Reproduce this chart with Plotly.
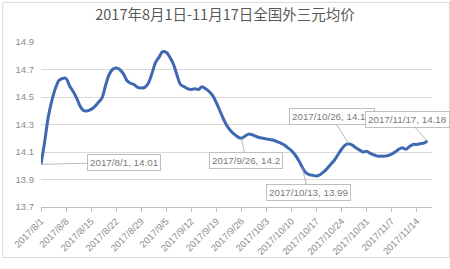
import plotly.graph_objects as go
import pandas as pd

title_text = "2017年8月1日-11月17日全国外三元均价"

# daily average price, 2017-08-01 .. 2017-11-17
prices = [
    14.01, 14.17, 14.35, 14.47, 14.56, 14.62, 14.635, 14.635, 14.58, 14.54,
    14.49, 14.43, 14.40, 14.40, 14.41, 14.43, 14.46, 14.49, 14.58, 14.66,
    14.70, 14.71, 14.70, 14.67, 14.62, 14.60, 14.59, 14.57, 14.565, 14.57,
    14.60, 14.67, 14.75, 14.79, 14.83, 14.825, 14.79, 14.74, 14.66, 14.59,
    14.575, 14.56, 14.555, 14.56, 14.555, 14.575, 14.56, 14.54, 14.51, 14.46,
    14.40, 14.34, 14.29, 14.255, 14.23, 14.21, 14.20, 14.215, 14.23, 14.225,
    14.215, 14.205, 14.20, 14.195, 14.19, 14.185, 14.175, 14.165, 14.15, 14.13,
    14.11, 14.08, 14.04, 13.99, 13.95, 13.935, 13.93, 13.925, 13.935, 13.955,
    13.98, 14.01, 14.04, 14.08, 14.12, 14.15, 14.16, 14.15, 14.13, 14.115,
    14.10, 14.105, 14.09, 14.08, 14.07, 14.07, 14.07, 14.075, 14.085, 14.10,
    14.12, 14.13, 14.12, 14.14, 14.155, 14.155, 14.16, 14.165, 14.18,
]
dates = pd.date_range("2017-08-01", periods=len(prices), freq="D")

tick_labels = ["2017/8/1", "2017/8/8", "2017/8/15", "2017/8/22", "2017/8/29",
               "2017/9/5", "2017/9/12", "2017/9/19", "2017/9/26", "2017/10/3",
               "2017/10/10", "2017/10/17", "2017/10/24", "2017/10/31",
               "2017/11/7", "2017/11/14"]
tick_vals = [pd.to_datetime(t, format="%Y/%m/%d") for t in tick_labels]

y_ticks = [13.7, 13.9, 14.1, 14.3, 14.5, 14.7, 14.9]

callout_dates = ["2017/8/1", "2017/9/26", "2017/10/13", "2017/10/26", "2017/11/17"]
callout_values = [14.01, 14.2, 13.99, 14.16, 14.18]
callout_ax = [83, 5, 6, -17, -20]
callout_ay = [-2, 22, 25, -27, -22]

fig = go.Figure()
fig.add_trace(go.Scatter(
    x=dates, y=prices, mode="lines",
    line=dict(color="#3f68b2", width=3, shape="spline", smoothing=0.8),
    hoverinfo="skip",
))

for d, v, ax, ay in zip(callout_dates, callout_values, callout_ax, callout_ay):
    fig.add_annotation(
        x=pd.to_datetime(d, format="%Y/%m/%d"), y=v,
        text=f"{d}, {v:g}",
        showarrow=True, arrowhead=0, arrowwidth=0.8, arrowcolor="#a6a6a6",
        ax=ax, ay=ay,
        font=dict(family="Liberation Sans, Arial", size=9.8, color="#7a7a7a"),
        bgcolor="white", bordercolor="#bfbfbf", borderwidth=1, borderpad=2,
    )

fig.update_layout(
    width=450, height=269,
    margin=dict(l=39, r=18, t=42, b=54),
    paper_bgcolor="white", plot_bgcolor="white",
    showlegend=False,
    title=dict(text=title_text, x=0.5, xanchor="center", y=0.945, yanchor="middle",
               font=dict(family="Noto Sans CJK SC", size=14.5, color="#595959")),
    xaxis=dict(
        range=[dates[0], pd.Timestamp("2017-11-18 07:00")],
        tickvals=tick_vals, ticktext=tick_labels, tickangle=-45,
        tickfont=dict(family="Liberation Sans, Arial", size=9.5, color="#8c8c8c"),
        showgrid=False, zeroline=False,
        showline=True, linecolor="#bfbfbf", linewidth=1,
        ticks="outside", ticklen=4, tickcolor="#bfbfbf", tickwidth=1,
    ),
    yaxis=dict(
        range=[13.7, 14.9], tickvals=y_ticks, ticktext=[f"{t:.1f}" for t in y_ticks],
        tickfont=dict(family="Liberation Sans, Arial", size=9.5, color="#8c8c8c"),
        showgrid=True, gridcolor="#d9d9d9", gridwidth=1,
        zeroline=False, showline=False, ticklabelstandoff=6,
    ),
    shapes=[dict(type="rect", xref="paper", yref="paper",
                 x0=(0.5 - 39) / 393, x1=(449.5 - 39) / 393,
                 y0=(215 - 268) / 173, y1=(215 - 0.5) / 173,
                 line=dict(color="#d9d9d9", width=1), layer="below")],
)

fig.write_html("out.html")
